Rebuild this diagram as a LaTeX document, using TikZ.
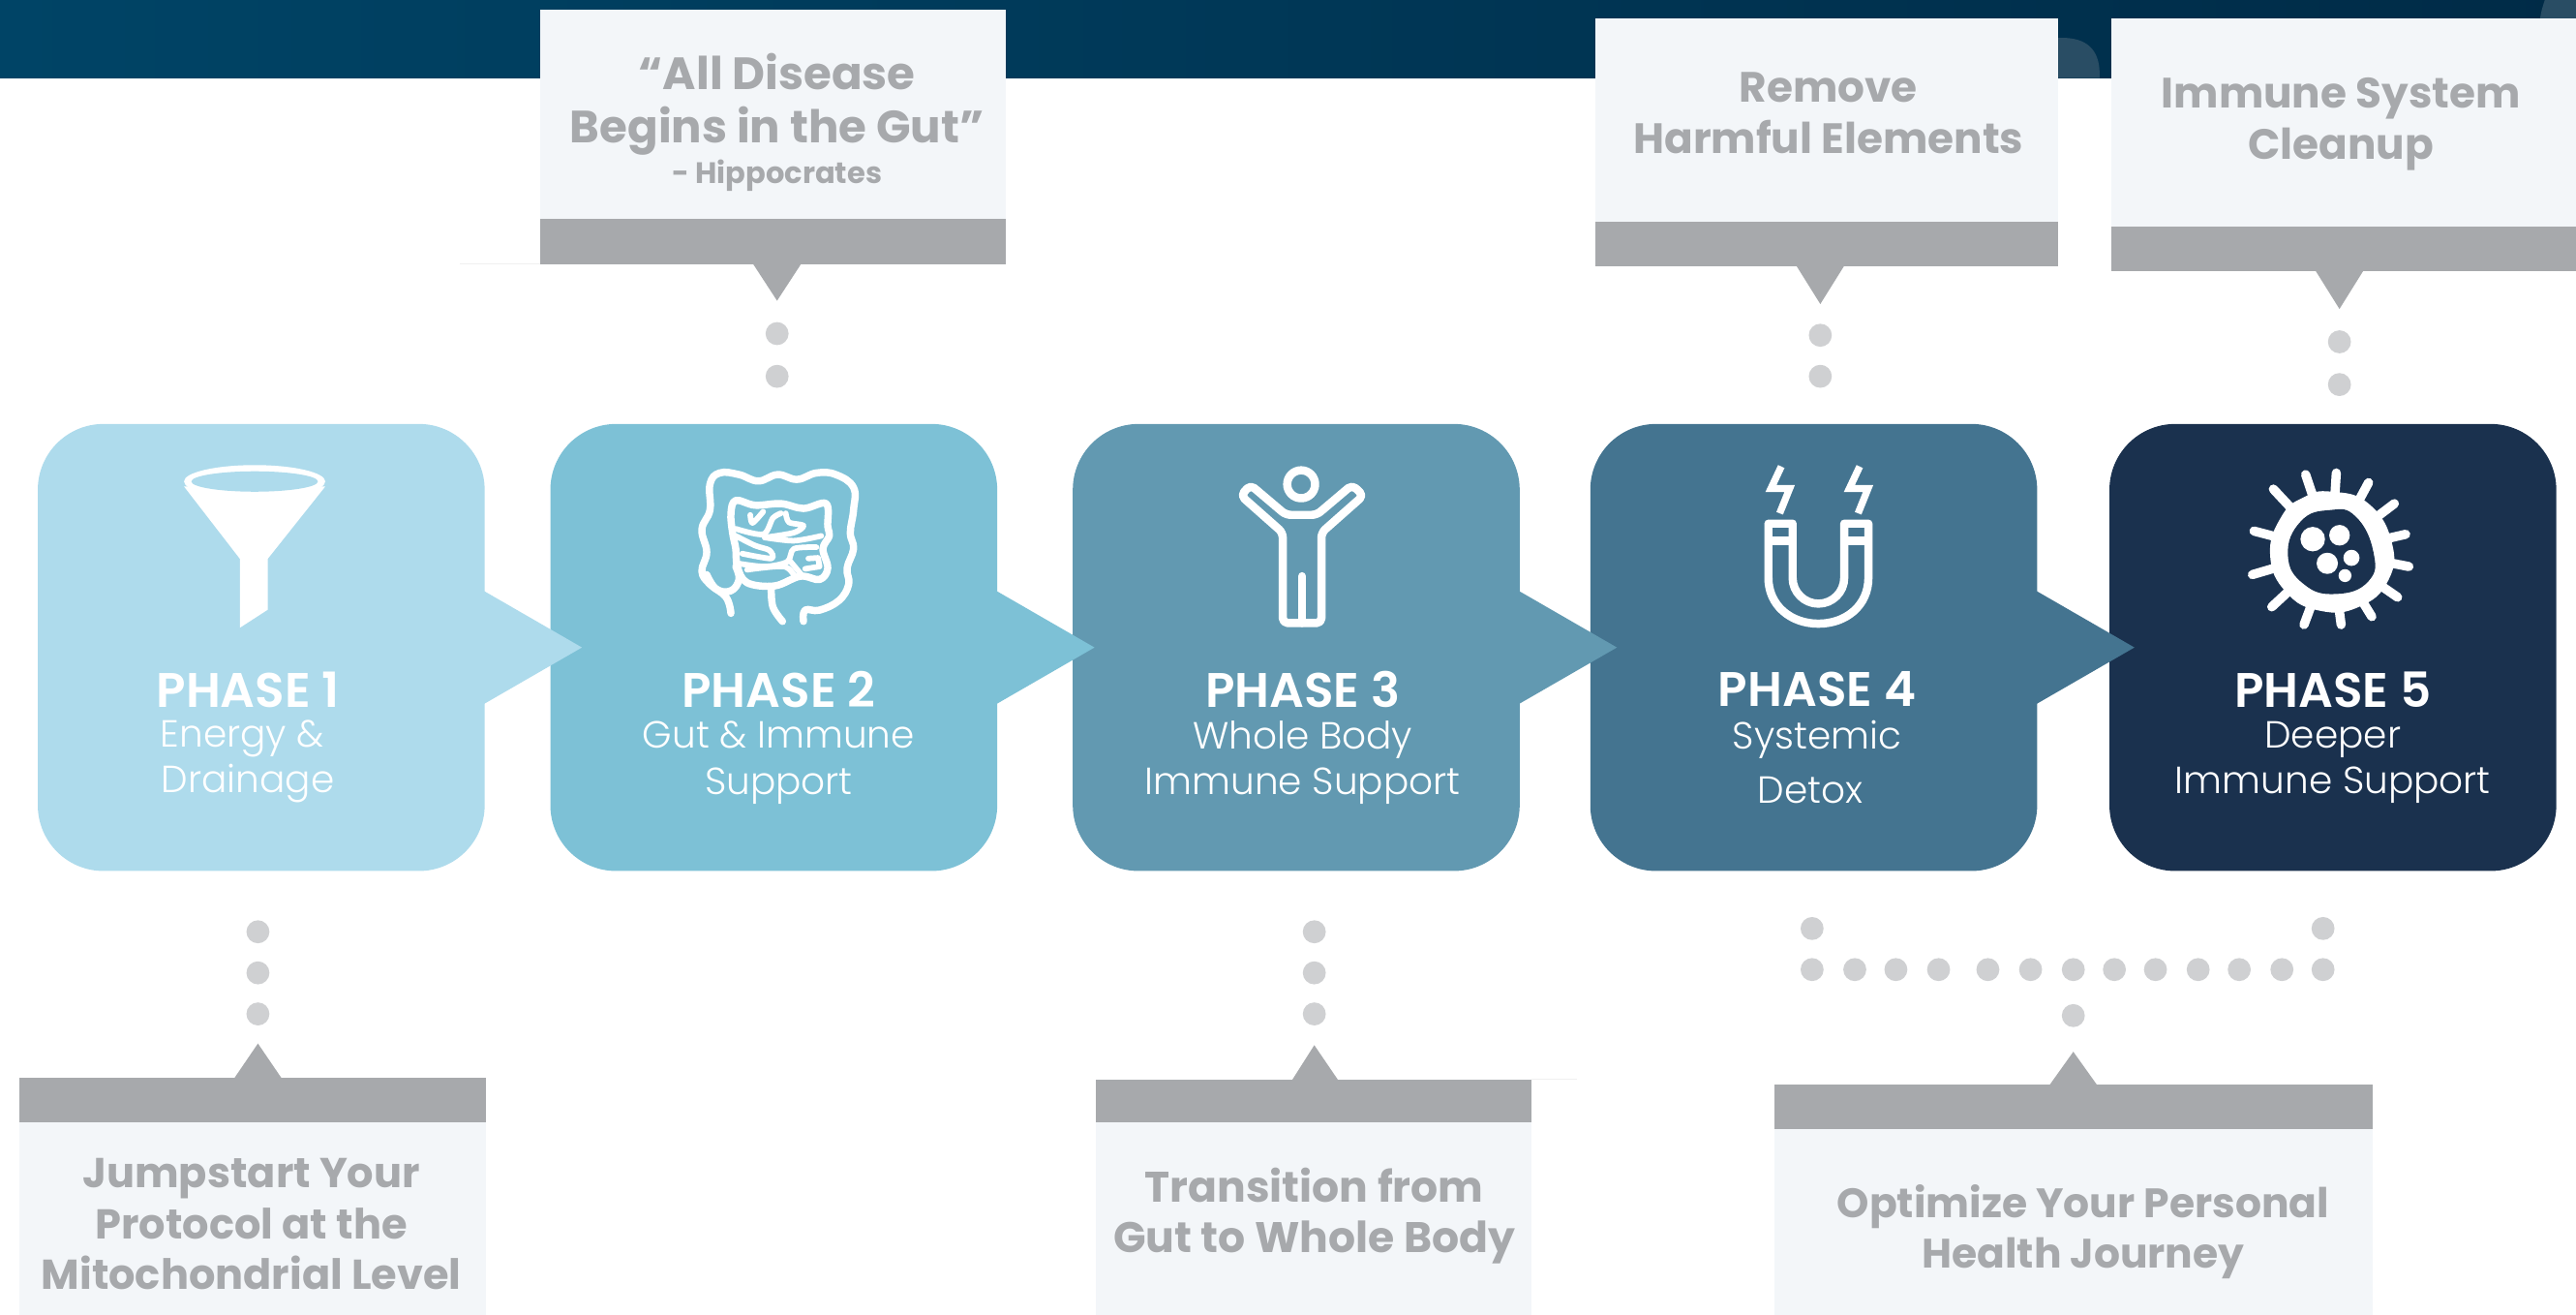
\documentclass[tikz,border=0pt]{standalone}
\usepackage{fontspec}
\setmainfont{Poppins}
\newfontfamily\calloutfont{Poppins}[UprightFont=* Bold]
\newfontfamily\titlefont{Poppins}[UprightFont=* SemiBold]
\newfontfamily\subfont{Poppins}[UprightFont=* Light]
\usetikzlibrary{calc}
\definecolor{cA}{HTML}{AEDBEC}
\definecolor{cB}{HTML}{7DC1D6}
\definecolor{cC}{HTML}{6299B1}
\definecolor{cD}{HTML}{447490}
\definecolor{cE}{HTML}{1A314E}
\definecolor{band}{HTML}{A7A9AC}
\definecolor{panel}{HTML}{F3F6F9}
\definecolor{dotc}{HTML}{CFD0D2}
\definecolor{hdrL}{HTML}{004466}
\definecolor{hdrR}{HTML}{002B47}
\tikzset{
  phasebox/.style={minimum width=272pt,minimum height=272pt,rounded corners=40pt,inner sep=0pt},
  phasetitle/.style={text=white,font=\titlefont\fontsize{29.5}{30}\selectfont,inner sep=0pt,anchor=center},
  phasesub/.style={text=white,font=\subfont\fontsize{23}{28}\selectfont,inner sep=0pt,align=center,anchor=center},
  callouttext/.style={text=band,font=\calloutfont\fontsize{25.8}{31}\selectfont,inner sep=0pt,align=center,anchor=center},
  icon/.style={draw=white,line width=5pt,line join=round,line cap=round},
  gutline/.style={icon,line width=4.4pt},
  gutfold/.style={icon,line width=3.4pt},
  hair/.style={draw=black!6,line width=.6pt},
  crop/.style={x=.1964pt,y=-.1964pt}
}
\begin{document}
\begin{tikzpicture}[x=1pt,y=-1pt]
\useasboundingbox (0,0) rectangle (1568,800.2);
\fill[white] (0,0) rectangle (1568,800.2);
% header
\shade[left color=hdrL,right color=hdrR] (0,0) rectangle (1568,47.5);
\fill[white!16!hdrR] (1225,47.5) -- (1278,47.5) -- (1278,45) .. controls (1278,30) and (1270,23) .. (1255,23) -- (1225,23) -- cycle;
\fill[white!16!hdrR] (1568,0) -- (1549,0) .. controls (1547,6) and (1546,10) .. (1546,14) -- (1568,14) -- cycle;

% callout panels
\fill[panel] (329,6) rectangle (612,133);
\fill[band] (329,133) rectangle (612,161);
\fill[band] (458,160) -- (488,160) -- (473,183) -- cycle;
\draw[hair] (280,160.5) -- (329,160.5);
\fill[panel] (971,11) rectangle (1253,135);
\fill[band] (971,135) rectangle (1253,162);
\fill[band] (1093,161) -- (1123,161) -- (1108,185) -- cycle;
\fill[panel] (1285,11) rectangle (1568,138);
\fill[band] (1285,138) rectangle (1568,165);
\fill[band] (1409,164) -- (1439,164) -- (1424,188) -- cycle;
\fill[band] (12,656) rectangle (296,683);
\fill[panel] (12,683) rectangle (296,800.2);
\fill[band] (142,657) -- (172,657) -- (157,635) -- cycle;
\fill[band] (667,657) rectangle (932,683);
\fill[panel] (667,683) rectangle (932,800.2);
\fill[band] (786,658) -- (815,658) -- (800,636) -- cycle;
\draw[hair] (932,656.5) -- (960,656.5);
\fill[band] (1080,660) rectangle (1444,687);
\fill[panel] (1080,687) rectangle (1444,800.2);
\fill[band] (1247,661) -- (1277,661) -- (1262,640) -- cycle;

% callout texts
\node[callouttext,font=\calloutfont\fontsize{27.5}{32}\selectfont] (t1) at (473,74.5) {“All Disease\\Begins in the Gut”\\[-7pt]{\fontsize{18}{20}\selectfont - Hippocrates}};
\node[callouttext] (t2) at (1113,69) {Remove\\Harmful Elements};
\node[callouttext] (t3) at (1425,75.5) {Immune System\\Cleanup};
\node[callouttext,font=\calloutfont\fontsize{25.4}{31}\selectfont] (t4) at (153,745) {Jumpstart Your\\Protocol at the\\Mitochondrial Level};
\node[callouttext,font=\calloutfont\fontsize{26}{31}\selectfont] (t5) at (800,740) {Transition from\\Gut to Whole Body};
\node[callouttext,font=\calloutfont\fontsize{25}{31}\selectfont] (t6) at (1268,749.5) {Optimize Your Personal\\Health Journey};

% dots
\foreach \px/\py in {473/203,473/229,1108/204,1108/229,1424/208,1424/234,
  157/567,157/592,157/617,800/567,800/592,800/617,
  1103/565,1103/590,1129/590,1154/590,1180/590,1210/590,1236/590,1262/590,1287/590,1312/590,1338/590,1363/590,1389/590,1414/590,1414/565,1262/618}
  \fill[dotc] (\px,\py) circle[radius=7pt];

% phase boxes
\node[phasebox,fill=cA] (p1) at (159,394) {};
\node[phasebox,fill=cB] (p2) at (471,394) {};
\node[phasebox,fill=cC] (p3) at (789,394) {};
\node[phasebox,fill=cD] (p4) at (1104,394) {};
\node[phasebox,fill=cE] (p5) at (1420,394) {};
\fill[cA] ($(p1.east)+(-1,-34.6)$) -- ($(p1.east)+(59,0)$) -- ($(p1.east)+(-1,34.6)$) -- cycle;
\fill[cB] ($(p2.east)+(-1,-34.6)$) -- ($(p2.east)+(59,0)$) -- ($(p2.east)+(-1,34.6)$) -- cycle;
\fill[cC] ($(p3.east)+(-1,-34.6)$) -- ($(p3.east)+(59,0)$) -- ($(p3.east)+(-1,34.6)$) -- cycle;
\fill[cD] ($(p4.east)+(-1,-34.6)$) -- ($(p4.east)+(59,0)$) -- ($(p4.east)+(-1,34.6)$) -- cycle;

% phase labels
\node[phasetitle] (h1) at (151,419.5) {PHASE 1};
\node[phasesub] (s1) at (147.5,463.5) {Energy \&\\\hspace*{7pt}Drainage};
\node[phasetitle] (h2) at (474,419.5) {PHASE 2};
\node[phasesub] (s2) at (474,464) {Gut \& Immune\\Support};
\node[phasetitle] (h3) at (793,419.5) {PHASE 3};
\node[phasesub] (s3) at (793,464) {Whole Body\\Immune Support};
\node[phasetitle] (h4) at (1106,419.5) {PHASE 4};
\node[phasesub,text height=17pt] (s4a) at (1106,450) {Systemic};
\node[phasesub] (s4b) at (1102,481) {Detox};
\node[phasetitle] (h5) at (1420,419.5) {PHASE 5};
\node[phasesub] (s5) at (1420,464) {Deeper\\Immune Support};

% funnel
\fill[white] (112,296) -- (146,340) -- (146,382) -- (163,371) -- (163,340) -- (198,296) -- cycle;
\fill[white] (155,293) ellipse[x radius=43pt,y radius=10pt];
\fill[cA] (155,293) ellipse[x radius=38.5pt,y radius=6.2pt];

% intestine
\begin{scope}[shift={(412.5,277)},crop]
\draw[gutline] plot[smooth,tension=.7] coordinates {(165,490) (150,440) (100,400) (75,360) (90,300) (75,230) (100,170) (100,90) (130,55) (190,60) (250,80) (310,60) (370,75) (430,55) (490,60) (545,100) (545,170) (535,240) (545,290) (525,350) (530,400) (500,450) (440,480) (395,480) (390,515)};
\draw[gutline] plot[smooth cycle,tension=.6] coordinates {(180,140) (240,155) (320,150) (390,165) (460,150) (465,220) (470,250) (450,290) (465,350) (440,385) (380,375) (300,405) (215,395) (185,345) (180,290) (170,240) (165,180)};
\draw[gutline] plot[smooth,tension=.7] coordinates {(90,370) (120,415) (165,420) (190,385) (180,345)};
\draw[gutline] plot[smooth,tension=.6] coordinates {(290,410) (295,470) (325,515)};
\draw[gutfold] plot[smooth,tension=.5] coordinates {(225,185) (232,210) (265,175)};
\draw[gutfold] plot[smooth,tension=.5] coordinates {(180,228) (265,245) (295,195) (320,180)};
\draw[gutfold] plot[smooth,tension=.5] coordinates {(335,180) (345,208) (390,218) (360,240) (270,255)};
\draw[gutfold] plot[smooth,tension=.5] coordinates {(270,255) (360,265) (445,250)};
\draw[gutfold] plot[smooth,tension=.5] coordinates {(180,250) (240,280) (285,295) (290,320) (200,305)};
\draw[gutfold] plot[smooth,tension=.5] coordinates {(185,335) (270,345) (340,330) (360,290) (430,285)};
\draw[gutfold] plot[smooth,tension=.5] coordinates {(215,355) (330,345) (365,380)};
\draw[gutfold] (350,330) -- (385,372);
\draw[gutfold] (405,320) -- (435,318) -- (440,345) -- (395,352);
\end{scope}

% person
\begin{scope}[shift={(742.5,277)},crop]
\draw[icon,rounded corners=3pt] (205,185) -- (300,185) -- (410,92) -- (445,125) -- (315,240) -- (315,520) -- (195,520) -- (195,240) -- (65,125) -- (95,92) -- cycle;
\draw[icon] (255,375) -- (255,520);
\draw[icon] (252,90) circle[radius=8.5pt];
\end{scope}

% magnet
\begin{scope}[shift={(1054.8,277)},crop]
\draw[icon] (110,212) -- (110,380) .. controls (110,465.6) and (179.4,522) .. (265,522) .. controls (350.6,522) and (420,465.6) .. (420,380) -- (420,212) -- (345,212) -- (345,380) .. controls (345,424) and (309,460) .. (265,460) .. controls (221,460) and (185,424) .. (185,380) -- (185,212) -- cycle;
\draw[icon,line cap=butt] (110,265) -- (185,265) (345,265) -- (420,265);
\foreach \dx in {0,243}
  \draw[white,line width=4.3pt,line join=miter,miter limit=10] ([xshift=\dx*.1964pt]150,35) -- ([xshift=\dx*.1964pt]118,103) -- ([xshift=\dx*.1964pt]176,103) -- ([xshift=\dx*.1964pt]145,180);
\end{scope}

% virus
\begin{scope}[shift={(1355.3,277)},crop]
\coordinate (vc) at (325,298);
\foreach \tx/\ty in {245/60,340/55,440/85,520/150,555/245,565/345,530/440,450/500,355/525,240/525,140/470,80/370,85/235,145/105}
  \draw[white,line width=5.6pt,line cap=round] (vc) -- (\tx,\ty);
\fill[white] plot[smooth cycle,tension=.8] coordinates {(325,113) (440,150) (512,270) (500,390) (410,470) (290,482) (185,425) (135,310) (170,190) (240,130)};
\fill[cE] plot[smooth cycle,tension=.8] coordinates {(230,205) (320,170) (400,190) (455,300) (440,390) (340,430) (240,400) (190,310)};
\foreach \px/\py/\r in {267/260/38,350/248/32,312/335/33,387/318/25,367/373/20}
  \fill[white] (\px,\py) circle[radius=\r*.1964pt];
\end{scope}
\end{tikzpicture}
\end{document}
